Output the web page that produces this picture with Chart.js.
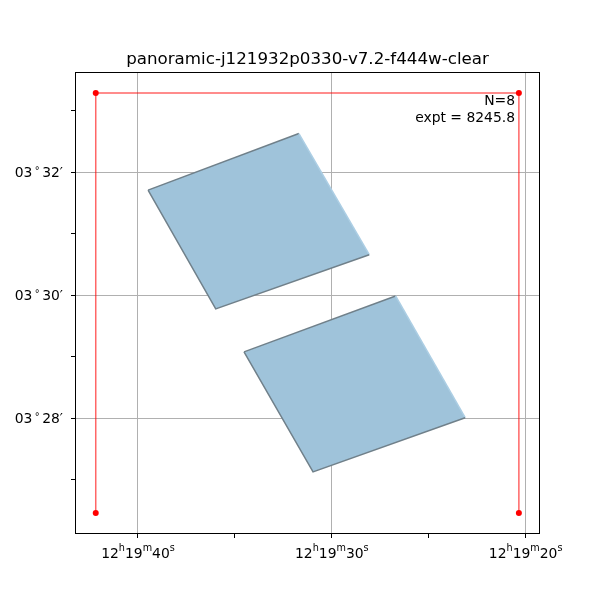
<!DOCTYPE html>
<html>
<head>
<meta charset="utf-8">
<script src="https://cdn.jsdelivr.net/npm/chart.js@4"></script>
<style>
  html, body { margin: 0; background: #fff; }
  #wrap { width: 600px; height: 600px; }
</style>
</head>
<body>
<div id="wrap"><canvas id="chart" width="600" height="600"></canvas></div>
<script>
// Footprint plot: RA in seconds of 12h19m, Dec in arcmin of +03°
const title = 'panoramic-j121932p0330-v7.2-f444w-clear';

const raTicks = [20, 25, 30, 35, 40];
const raMajor = [20, 30, 40];
const raLabels = [['12', '19', '20'], ['12', '19', '30'], ['12', '19', '40']];
const decTicks = [27, 28, 29, 30, 31, 32, 33];
const decMajor = [28, 30, 32];
const decLabels = [['03', '28'], ['03', '30'], ['03', '32']];
const raRange = [19.26, 43.25];
const decRange = [26.12, 33.63];

// red field boundary (open on the bottom side)
const boundaryRa = [42.18, 42.18, 20.35, 20.35];
const boundaryDec = [26.46, 33.29, 33.29, 26.46];

// two detector footprints, closed polygons
const shape1Ra = [39.48, 31.70, 28.07, 35.99, 39.48];
const shape1Dec = [31.71, 32.63, 30.66, 29.78, 31.71];
const shape2Ra = [34.53, 26.71, 23.12, 30.97, 34.53];
const shape2Dec = [29.08, 29.99, 28.01, 27.13, 29.08];

const nExp = 8;
const exptime = 8245.8;

const FONT = '"DejaVu Sans", sans-serif';
const FILL = 'rgb(159,195,218)';
const EDGE = 'rgb(112,128,138)';
const toPoints = (xs, ys) => xs.map((x, i) => ({ x, y: ys[i] }));

function shapeDataset(xs, ys) {
  return {
    data: toPoints(xs, ys),
    polygon: true,
    showLine: true,
    fill: false,
    borderColor: EDGE,
    borderWidth: 1.5,
    pointRadius: 0,
    segment: {
      // right-hand edge shows no dark outline in the reference
      borderColor: ctx => ctx.p0DataIndex === 1 ? 'rgb(172,206,228)' : EDGE,
    },
  };
}

// fills the footprints from the element positions the scales computed
const polygonFill = {
  id: 'polygonFill',
  beforeDatasetsDraw(chart) {
    const ctx = chart.ctx;
    chart.data.datasets.forEach((ds, i) => {
      if (!ds.polygon) return;
      const pts = chart.getDatasetMeta(i).data;
      ctx.save();
      ctx.beginPath();
      pts.forEach((p, j) => j ? ctx.lineTo(p.x, p.y) : ctx.moveTo(p.x, p.y));
      ctx.closePath();
      ctx.fillStyle = FILL;
      ctx.fill();
      ctx.restore();
    });
  },
};

// draws tick labels with superscripts, title, frame and the annotation
const labelsPlugin = {
  id: 'labels',
  afterDraw(chart) {
    const { ctx, chartArea: a, scales } = chart;
    ctx.save();

    ctx.strokeStyle = '#000';
    ctx.lineWidth = 1;
    ctx.strokeRect(Math.round(a.left) + 0.5, Math.round(a.top) + 0.5,
      Math.round(a.right - a.left) - 1, Math.round(a.bottom - a.top) - 1);

    ctx.fillStyle = '#000';
    ctx.textBaseline = 'alphabetic';

    ctx.font = '16.7px ' + FONT;
    ctx.textAlign = 'center';
    ctx.fillText(title, (a.left + a.right) / 2, 64);

    const big = '13.9px ' + FONT, small = '9.7px ' + FONT;
    const drawParts = (parts, x, y) => {
      ctx.textAlign = 'left';
      parts.forEach(p => {
        ctx.font = p[1];
        ctx.fillText(p[0], x, y + p[2]);
        x += ctx.measureText(p[0]).width + (p[3] || 0);
      });
    };
    const widthOf = parts => parts.reduce((w, p) => {
      ctx.font = p[1];
      return w + ctx.measureText(p[0]).width + (p[3] || 0);
    }, 0);

    // x labels: 12^h19^m40^s
    raMajor.forEach((v, i) => {
      const [h, m, s] = raLabels[i];
      const parts = [[h, big, 0], ['h', small, -7], [m, big, 0], ['m', small, -7], [s, big, 0], ['s', small, -7]];
      drawParts(parts, scales.x.getPixelForValue(v) - widthOf(parts) / 2, 558);
    });

    // y labels: 03 ° 32′
    decMajor.forEach((v, i) => {
      const [d, m] = decLabels[i];
      const parts = [[d, big, 0, 2.5], ['°', small, -3, 2.5], [m + '′', big, 0]];
      drawParts(parts, 63 - widthOf(parts), scales.y.getPixelForValue(v) + 5);
    });

    ctx.font = big;
    ctx.textAlign = 'right';
    ctx.fillText('N=' + nExp, 515, 105);
    ctx.fillText('expt = ' + exptime.toFixed(1), 515, 122);
    ctx.restore();
  },
};

const gridColor = majors => ctx => (ctx.tick && majors.includes(ctx.tick.value)) ? '#b0b0b0' : 'rgba(0,0,0,0)';

new Chart(document.getElementById('chart'), {
  type: 'scatter',
  data: {
    datasets: [
      shapeDataset(shape1Ra, shape1Dec),
      shapeDataset(shape2Ra, shape2Dec),
      {
        data: toPoints(boundaryRa, boundaryDec),
        showLine: true,
        fill: false,
        borderColor: 'rgba(255,0,0,0.6)',
        borderWidth: 1.5,
        pointRadius: 3,
        pointBackgroundColor: '#ff0000',
        pointBorderWidth: 0,
      },
    ],
  },
  options: {
    responsive: false,
    animation: false,
    layout: { padding: { left: 0, right: 60, top: 72, bottom: 0 } },
    plugins: { legend: { display: false }, tooltip: { enabled: false }, title: { display: false } },
    scales: {
      x: {
        type: 'linear',
        reverse: true,
        min: raRange[0],
        max: raRange[1],
        z: 1,
        afterBuildTicks: s => { s.ticks = raTicks.map(value => ({ value })); },
        afterFit: s => { s.height = 66; },
        ticks: { display: false },
        border: { display: false },
        grid: { color: gridColor(raMajor), tickColor: '#000', tickLength: 4, lineWidth: 1 },
      },
      y: {
        type: 'linear',
        min: decRange[0],
        max: decRange[1],
        z: 1,
        afterBuildTicks: s => { s.ticks = decTicks.map(value => ({ value })); },
        afterFit: s => { s.width = 75; },
        ticks: { display: false },
        border: { display: false },
        grid: { color: gridColor(decMajor), tickColor: '#000', tickLength: 4, lineWidth: 1 },
      },
    },
  },
  plugins: [polygonFill, labelsPlugin],
});
</script>
</body>
</html>
